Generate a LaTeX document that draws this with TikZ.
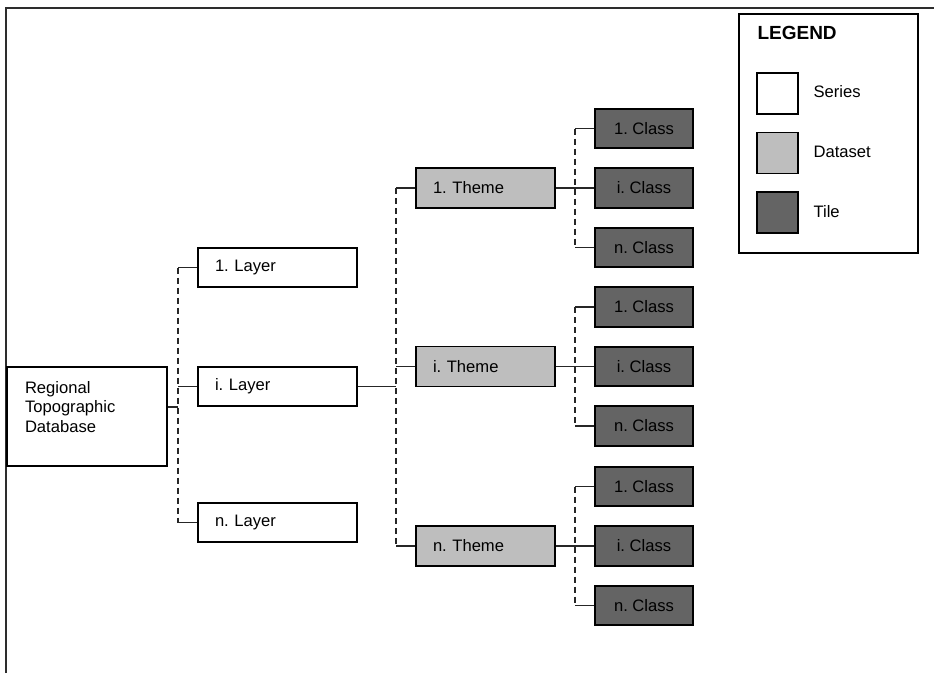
\documentclass[tikz,border=0pt]{standalone}
\usepackage{fontspec}
\setmainfont{Liberation Sans}
\usepackage{tikz}
\usetikzlibrary{
  positioning,
  calc
}
\frenchspacing
\definecolor{datasetgray}{RGB}{190,190,190}
\definecolor{tilegray}{RGB}{100,100,100}
\definecolor{framegray}{RGB}{45,45,45}
\tikzset{
  link/.style       = {line width=1.4pt, black!85},
  bus/.style        = {line width=1.4pt, black!85, dash pattern=on 6pt off 4pt},
  seriesbox/.style  = {draw, line width=1.6pt, fill=white, inner xsep=17pt,
                       text width=125pt, minimum height=39pt, align=left,
                       font=\fontsize{16.6}{19.5}\selectfont},
  datasetbox/.style = {draw, line width=1.6pt, fill=datasetgray, inner xsep=17pt,
                       text width=105pt, minimum height=40pt, align=left,
                       font=\fontsize{16.6}{19.5}\selectfont},
  tilebox/.style    = {draw, line width=1.6pt, fill=tilegray, inner sep=0pt,
                       minimum width=98pt, minimum height=39.5pt, align=center,
                       font=\fontsize{16.6}{19.5}\selectfont},
  keybox/.style     = {draw, line width=1.6pt, minimum size=41pt, inner sep=0pt},
  keytext/.style    = {anchor=west, font=\fontsize{16.6}{19.5}\selectfont},
}

\begin{document}
\begin{tikzpicture}[x=1pt, y=-1pt]

    \useasboundingbox (0,0) rectangle (934,673);

    % Frame (open at right and bottom)
    \draw[framegray, line width=1.8pt] (6,673) -- (6,8) -- (934,8);

    % --- LEFT: ROOT ---
    \node[draw, line width=1.6pt, fill=white, minimum width=160pt, minimum height=99pt,
          inner xsep=18pt, inner ysep=14pt, font=\fontsize{16.6}{19.5}\selectfont]
        (root) at (87,416.5)
        {\parbox[c][71pt][t]{124pt}{Regional\\Topographic\\Database}};

    % --- LAYERS ---
    \node[seriesbox] (layer1) at (277.5,267.5) {1. Layer};
    \node[seriesbox] (layeri) at (277.5,386.5) {i. Layer};
    \node[seriesbox] (layern) at (277.5,522.5) {n. Layer};

    \coordinate (layerbus) at (178,407);
    \draw[link] (root.east |- layerbus) -- (layerbus);
    \draw[bus] (layerbus |- layer1) -- (layerbus |- layern);
    \foreach \l in {1,i,n}
        \draw[link] (layerbus |- layer\l) -- (layer\l.west);

    % --- THEMES AND CLASSES ---
    \coordinate (themebus) at (396,386.5);
    \draw[link] (layeri.east) -- (themebus);

    \foreach \t/\y in {1/188, i/366.5, n/546} {
        \node[datasetbox] (theme\t) at (485.5,\y) {\t. Theme};
        \foreach \c/\dy in {1/-59.5, i/0, n/59.5}
            \node[tilebox] (class\t\c) at (644,\y+\dy) {\c. Class};

        \coordinate (classbus\t) at (575,\y);
        \draw[bus] (classbus\t |- class\t1) -- (classbus\t |- class\t n);
        \draw[link] (theme\t.east) -- (class\t i.west);
        \draw[link] (classbus\t |- class\t1) -- (class\t1.west);
        \draw[link] (classbus\t |- class\t n) -- (class\t n.west);
        \draw[link] (themebus |- theme\t) -- (theme\t.west);
    }
    \draw[bus] (themebus |- theme1) -- (themebus |- themen);

    % --- LEGEND ---
    \node[draw, line width=1.5pt, minimum width=179pt, minimum height=239pt] (legend) at (828.5,133.5) {};
    \node[anchor=west, font=\fontsize{19}{22}\selectfont\bfseries] (legendtitle) at (754,33) {LEGEND};

    \node[keybox, fill=white]       (keyseries)  at (777.5,93.5)  {};
    \node[keytext] (keyseriestxt)  at (810,92)  {Series};
    \node[keybox, fill=datasetgray] (keydataset) at (777.5,153)   {};
    \node[keytext] (keydatasettxt) at (810,152) {Dataset};
    \node[keybox, fill=tilegray]    (keytile)    at (777.5,212.5) {};
    \node[keytext] (keytiletxt)    at (810,212) {Tile};

\end{tikzpicture}
\end{document}
